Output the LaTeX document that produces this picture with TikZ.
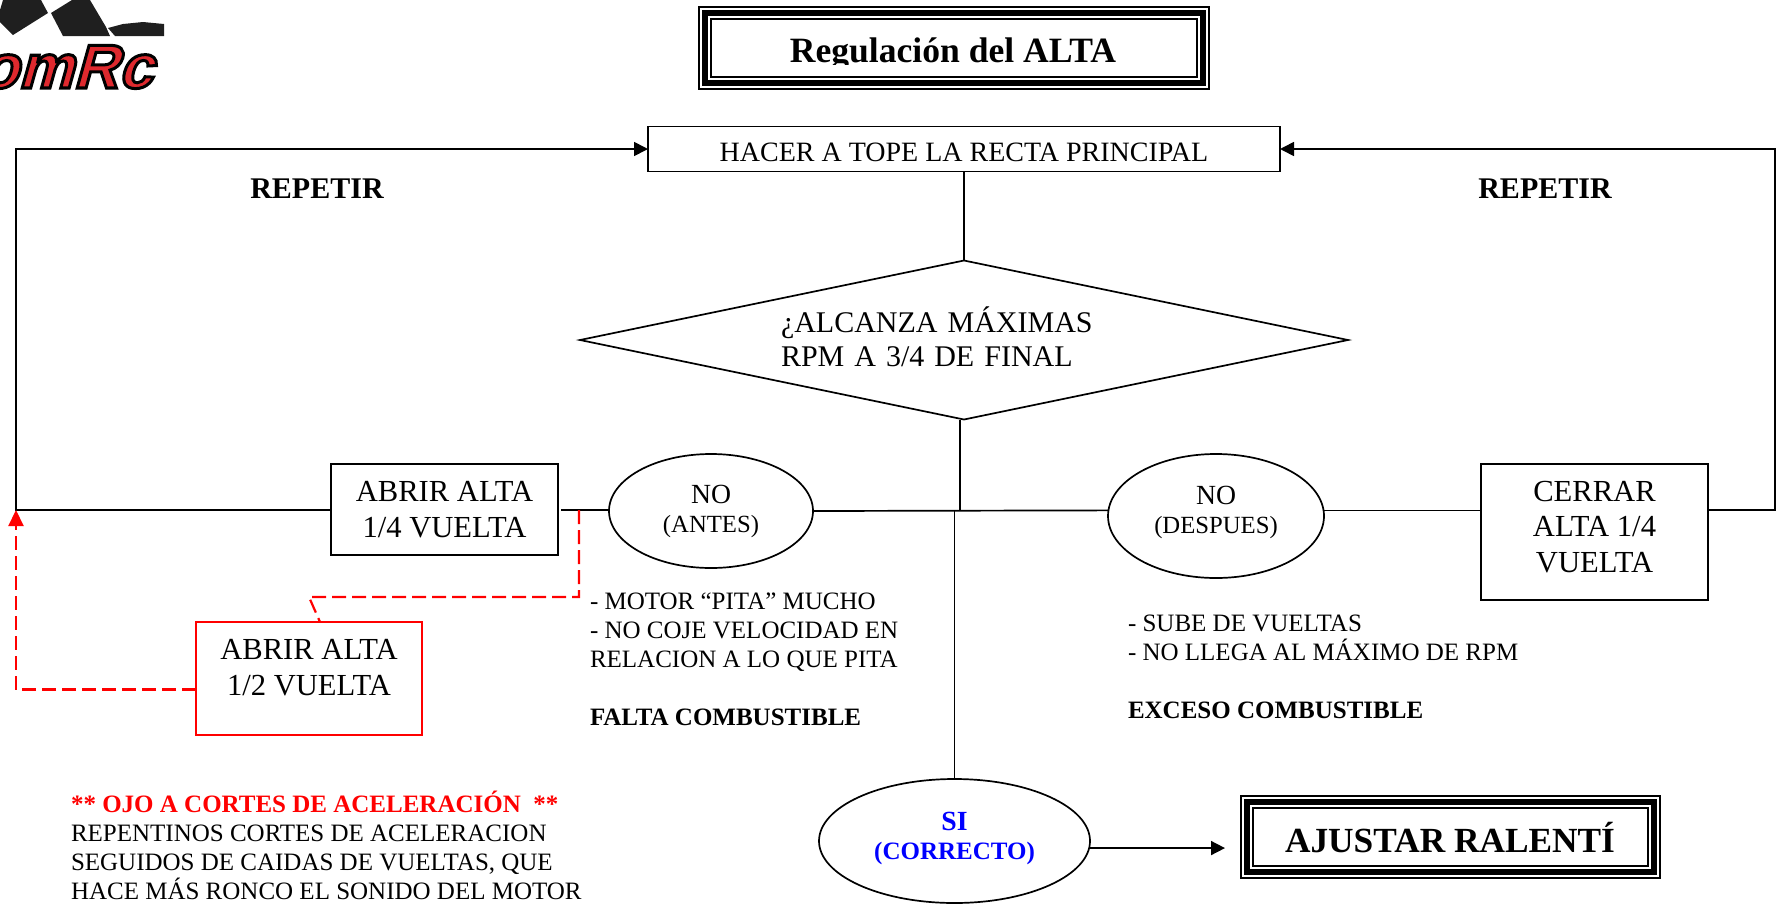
\documentclass[tikz,border=0pt]{standalone}
\usepackage{fontspec}
\setmainfont{Liberation Serif}
\newfontfamily\logofont{Liberation Sans}[BoldFeatures={FakeSlant=0.28}]
\usetikzlibrary{arrows.meta,shapes.geometric}
\begin{document}
\begin{tikzpicture}[x=1pt,y=-1pt,line width=1.7pt,
        every node/.style={inner sep=0pt,outer sep=0pt,align=center},
        caja/.style={rectangle,draw,font=\fontsize{30.6}{35.5}\selectfont},
        cajaroja/.style={caja,draw=red},
        marco/.style={rectangle,draw,line width=5.5pt,minimum height=70pt,
            preaction={draw,line width=2pt,double,double distance=10pt}},
        rombo/.style={diamond,draw,aspect=4.83,minimum width=768pt,minimum height=159pt,
            text width=366pt,align=left,font=\fontsize{30}{34}\selectfont},
        elipse/.style={ellipse,draw,font=\fontsize{24.7}{29}\selectfont},
        notas/.style={anchor=north west,align=left,font=\fontsize{25}{29}\selectfont},
        repetir/.style={font=\bfseries\fontsize{30}{34}\selectfont},
        linea/.style={draw},
        flecha/.style={draw,-{Triangle[length=14pt,width=14pt]}},
        rojo/.style={draw=red,line width=2.2pt,dash pattern=on 14pt off 6pt}]
        \useasboundingbox (0,0) rectangle (1788,903);
        \fill[black!88] (3,0) -- (0,10) -- (0,22) -- (13,35) -- (48,13) -- (41,0) -- cycle;
        \fill[black!88] (51,13) -- (72,0) -- (90,0) -- (106,27) -- (110,36) -- (63,36) -- cycle;
        \fill[black!88] (108,28) -- (123,24) -- (143,22) -- (164,24) -- (164,36) -- (115,36) -- cycle;
        \node[anchor=base west] (logo) at (-20,88) {\logofont\bfseries\fontsize{62}{66}\selectfont\special{pdf:code q 2 Tr 3 w 0 0 0 RG 0.87 0.16 0.18 rg}omRc\special{pdf:code Q}};
        \node[marco,minimum width=498pt] (titulo) at (954,48) {};
        \begin{scope}
            \clip (705,13) rectangle (1203,64);
            \node[anchor=base,font=\bfseries\fontsize{35.6}{40}\selectfont] (titulotxt) at (953,62) {Regulación del ALTA};
        \end{scope}
        \node[caja,minimum width=632pt,minimum height=45pt,font=\fontsize{28}{32}\selectfont] (recta) at (964,149) {\raisebox{-12.7pt}[0pt][0pt]{HACER A TOPE LA RECTA PRINCIPAL}};
        \node[rombo] (pregunta) at (964,340) {¿ALCANZA MÁXIMAS\\RPM A 3/4 DE FINAL\rule[-7pt]{0pt}{0pt}};
        \node[caja,minimum width=227pt,minimum height=91pt] (abrir) at (444.5,509.5) {ABRIR ALTA\\1/4 VUELTA};
        \node[elipse,minimum width=204pt,minimum height=114pt] (antes) at (711,511) {\fontsize{27.7}{30}\selectfont NO\\(ANTES)};
        \node[elipse,minimum width=216pt,minimum height=124pt] (despues) at (1216,516) {\fontsize{27.7}{28}\selectfont NO\\(DESPUES)\rule[-12pt]{0pt}{0pt}};
        \node[caja,minimum width=227pt,minimum height=136pt] (cerrar) at (1594.5,532) {CERRAR\\ALTA 1/4\\VUELTA\rule[-11pt]{0pt}{0pt}};
        \node[cajaroja,minimum width=226pt,minimum height=113pt] (medio) at (309,678.5) {ABRIR ALTA\\1/2 VUELTA\rule[-22pt]{0pt}{0pt}};
        \node[elipse,minimum width=271pt,minimum height=124pt,text=blue,font=\bfseries\fontsize{25}{29}\selectfont] (si) at (954.5,841) {\fontsize{27.7}{30}\selectfont SI\\(CORRECTO)\rule[-11pt]{0pt}{0pt}};
        \node[marco,minimum width=407pt] (ajustar) at (1450.5,837) {};
        \begin{scope}
            \clip (1247,802) rectangle (1654,856);
            \node[anchor=base,font=\bfseries\fontsize{35.3}{40}\selectfont] (ajustartxt) at (1450,852) {AJUSTAR RALENTÍ};
        \end{scope}
        \node[repetir] (repetiri) at (317,189) {REPETIR};
        \node[repetir] (repetird) at (1545,189) {REPETIR};
        \node[notas] (faltatxt) at (590,593) {- MOTOR “PITA” MUCHO\\- NO COJE VELOCIDAD EN\\RELACION A LO QUE PITA\\[29pt]\textbf{FALTA COMBUSTIBLE}};
        \node[notas] (excesotxt) at (1128,615) {- SUBE DE VUELTAS\\- NO LLEGA AL MÁXIMO DE RPM\\[29pt]\textbf{EXCESO COMBUSTIBLE}};
        \node[notas] (ojotxt) at (71,791) {\textcolor{red}{\textbf{** OJO A CORTES DE ACELERACIÓN~~**}}\\REPENTINOS CORTES DE ACELERACION\\SEGUIDOS DE CAIDAS DE VUELTAS, QUE\\HACE MÁS RONCO EL SONIDO DEL MOTOR};
        \coordinate (izq) at (16,510);
        \coordinate (der) at (1775,510);
        \coordinate (rama) at (579,510);
        \coordinate (codo) at (309,597);
        \draw[flecha] (abrir.west |- izq) -- (izq) |- (recta.west);
        \draw[flecha] (der -| cerrar.east) -- (der) |- (recta.east);
        \draw[linea] (recta.south) -- (pregunta.north);
        \draw[linea] ([xshift=-4pt]pregunta.south) -- ++(0,90);
        \draw[linea] ([xshift=3pt]abrir.east |- izq) -- (antes.west |- izq);
        \draw[linea] (antes.east) -- (despues.177);
        \draw[linea] (despues.3) -- (despues.3 -| cerrar.west);
        \draw[linea] (si.north) -- (si.north |- antes.east);
        \draw[flecha,shorten >=22pt] (si.-3) -- (si.-3 -| ajustar.west);
        \draw[rojo] (rama) |- (codo) -- ([xshift=11pt]medio.north);
        \draw[rojo,-{Triangle[length=16pt,width=15pt]}] ([yshift=-11pt]medio.west) -| (izq);
\end{tikzpicture}
\end{document}
